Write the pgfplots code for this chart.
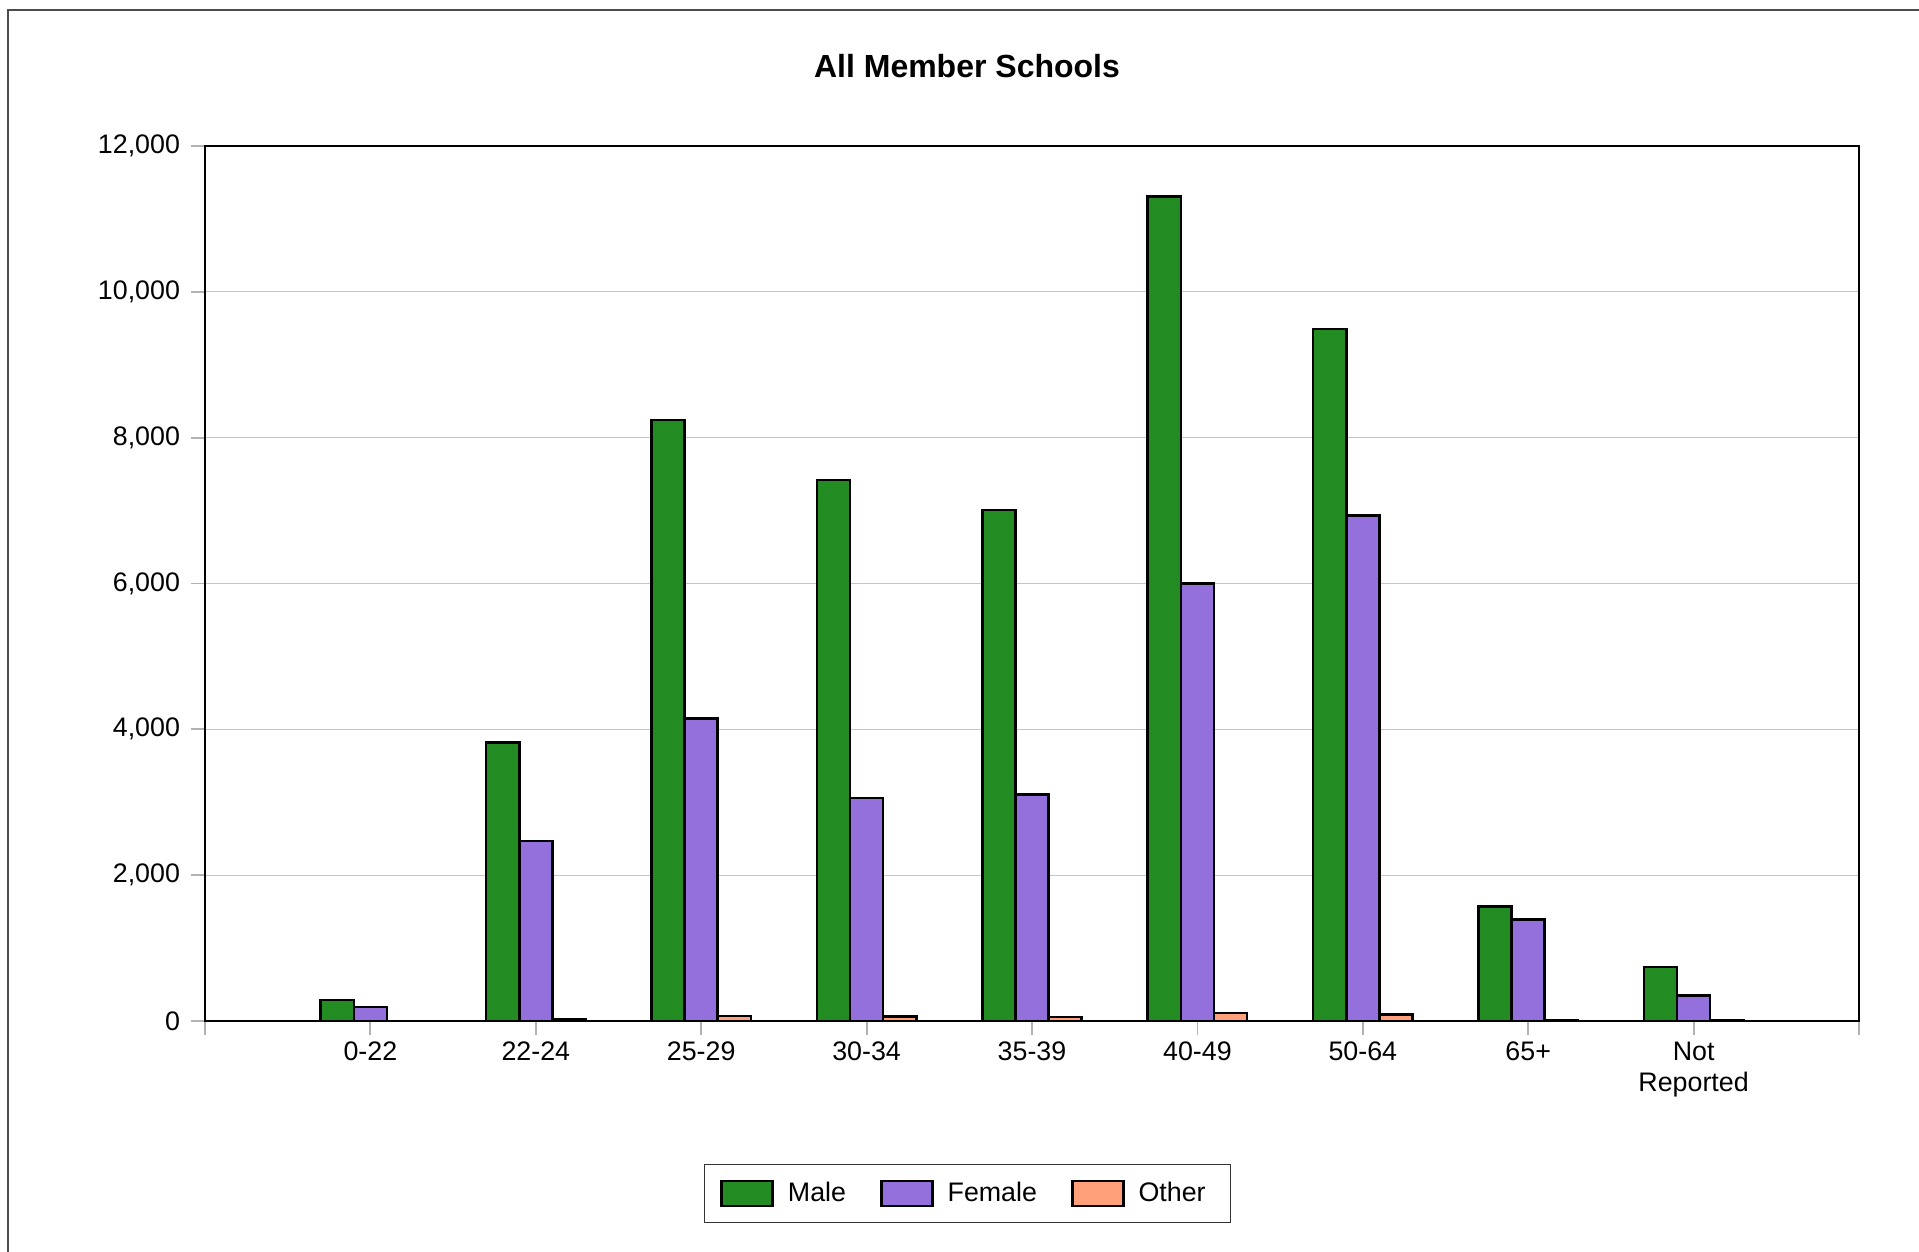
\documentclass[border=0pt]{standalone}
\usepackage{fontspec}
\setmainfont{Liberation Sans}
\usepackage{pgfplots}
\pgfplotsset{compat=1.18}
\definecolor{male}{HTML}{228B22}
\definecolor{female}{HTML}{9370DB}
\definecolor{other}{HTML}{FFA07A}
\begin{document}
\begin{tikzpicture}
\path[use as bounding box] (0,0) rectangle (959.5pt,626pt);
\draw[black!70, line width=0.8pt] (4pt,0pt) -- (4pt,621pt) -- (959.5pt,621pt);
\node[font=\fontsize{16}{18}\selectfont\bfseries] at (483.5pt,593pt) {All Member Schools};
\begin{axis}[
  at={(102.5pt,115.5pt)}, anchor=south west, scale only axis,
  width=827pt, height=437.5pt,
  xmin=-1, xmax=9, ymin=0, ymax=12000,
  xtick={-1,0,1,2,3,4,5,6,7,8,9},
  xticklabels={,0-22,22-24,25-29,30-34,35-39,40-49,50-64,65+,{Not\\Reported},},
  ytick={0,2000,4000,6000,8000,10000,12000},
  scaled y ticks=false,
  /pgf/number format/.cd, 1000 sep={,}, assume math mode=true, /pgfplots/.cd,
  ymajorgrids, grid style={gray!45, line width=0.6pt},
  tick align=outside, major tick length=7pt,
  tick style={gray!60, line width=0.9pt},
  xtick pos=left, ytick pos=left,
  axis line style={black, line width=0.75pt},
  tick label style={font=\fontsize{13.4}{15.3}\selectfont},
  xticklabel style={align=center},
  yticklabel style={xshift=-2pt},
  ybar=0pt, bar width=0.2,
  legend columns=3,
  legend style={at={(0.461,-0.197)}, anchor=center, draw=black!80, line width=0.6pt,
    font=\fontsize{13.4}{15.3}\selectfont, inner xsep=8pt, inner ysep=7pt,
    /tikz/every even column/.append style={column sep=15pt}},
]
\addplot[fill=male, draw=black, line width=1.3pt, bar shift=-0.2,
  legend image code/.code={\draw[fill=male, draw=black, line width=1.3pt] (0pt,-6.25pt) rectangle (25.5pt,6.25pt); \path (30.5pt,0pt);}]
  coordinates {(0,290) (1,3820) (2,8240) (3,7420) (4,7010) (5,11310) (6,9490) (7,1570) (8,740)};
\addlegendentry{Male}
\addplot[fill=female, draw=black, line width=1.3pt, bar shift=0,
  legend image code/.code={\draw[fill=female, draw=black, line width=1.3pt] (0pt,-6.25pt) rectangle (25.5pt,6.25pt); \path (30.5pt,0pt);}]
  coordinates {(0,190) (1,2470) (2,4150) (3,3060) (4,3110) (5,6000) (6,6930) (7,1390) (8,350)};
\addlegendentry{Female}
\addplot[fill=other, draw=black, line width=1.3pt, bar shift=0.2,
  legend image code/.code={\draw[fill=other, draw=black, line width=1.3pt] (0pt,-6.25pt) rectangle (25.5pt,6.25pt); \path (30.5pt,0pt);}]
  coordinates {(0,0) (1,20) (2,70) (3,60) (4,55) (5,110) (6,90) (7,15) (8,5)};
\addlegendentry{Other\hspace*{2.5pt}}
\end{axis}
\end{tikzpicture}
\end{document}
